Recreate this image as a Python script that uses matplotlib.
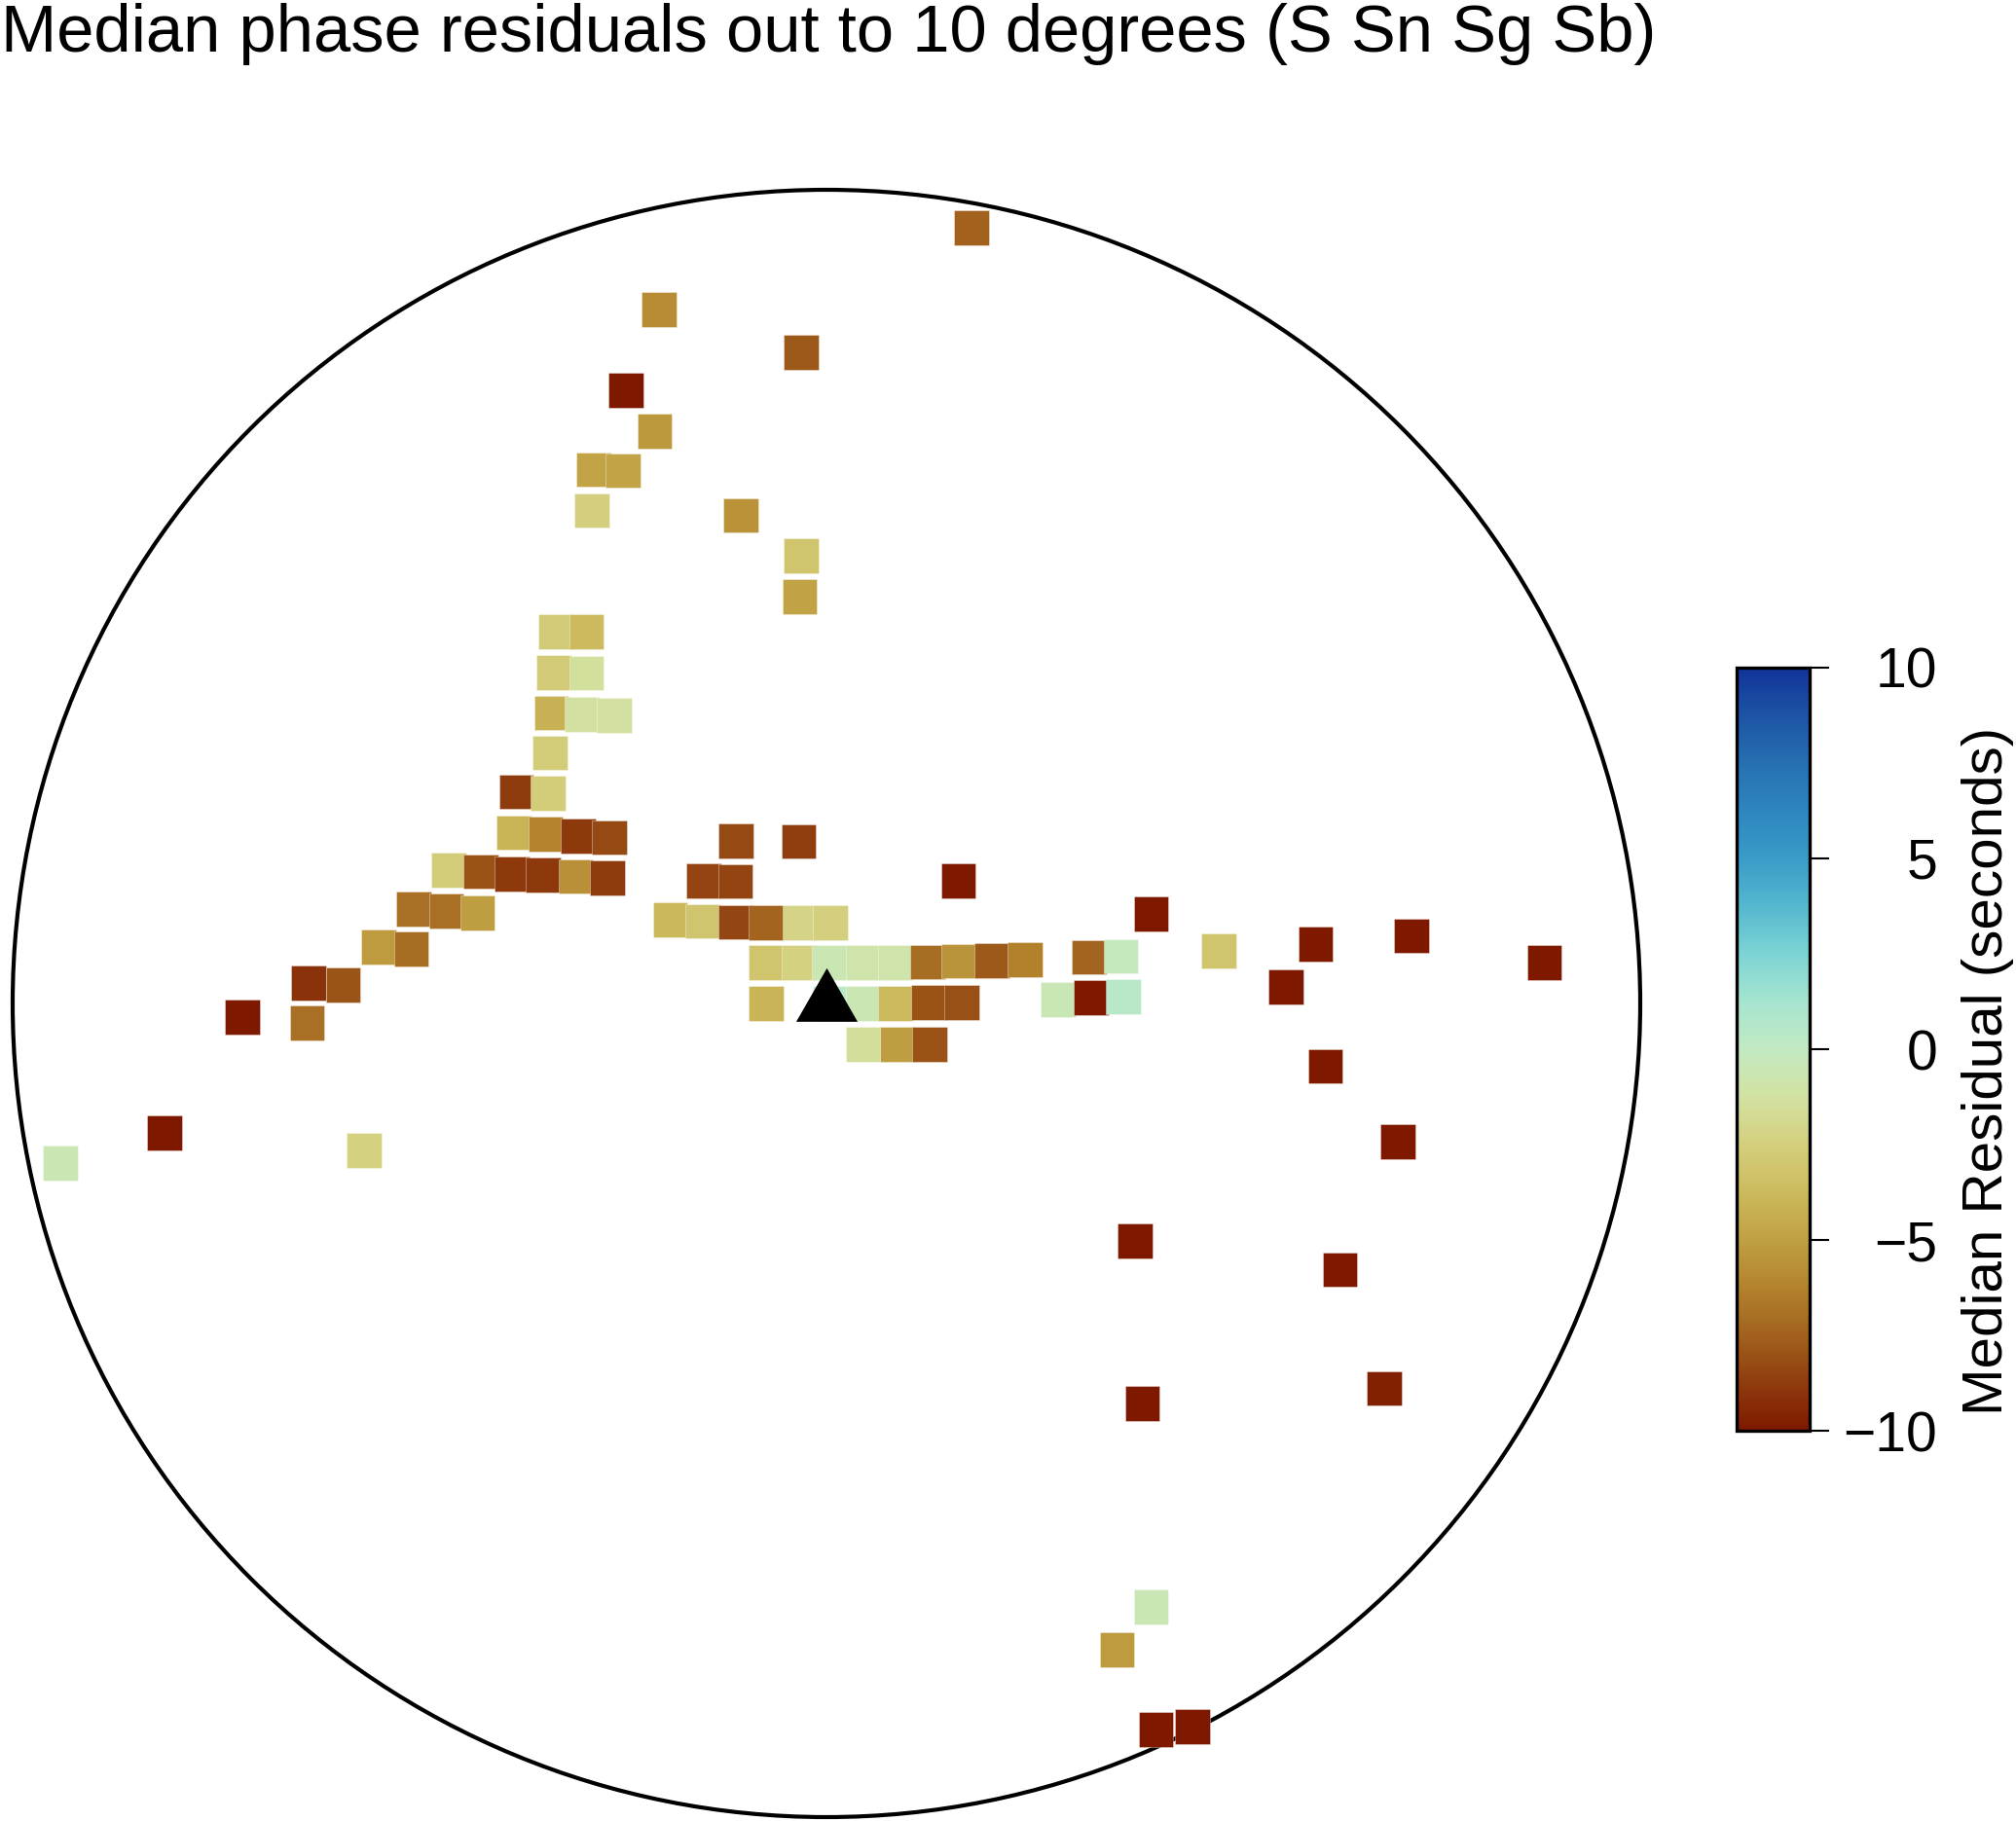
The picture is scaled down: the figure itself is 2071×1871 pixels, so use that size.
import matplotlib
matplotlib.use('Agg')
from matplotlib import pyplot as plt
from matplotlib.colors import LinearSegmentedColormap
from matplotlib.patches import Circle

plt.rcParams['font.family'] = ['Liberation Sans', 'DejaVu Sans']

# station offsets from the centre (degrees east / north) and median residual (s)
east = [1.78, -2.06, -0.31, -2.46, -2.11, -2.86, -2.50, -2.88, -1.05, -0.31, -0.33,
        -3.33, -2.95, -3.35, -2.95, -3.38, -3.00, -2.61, -3.40, -3.81, -3.42,
        -3.84, -3.45, -3.05, -2.67, -1.11, -0.34, -4.64, -4.25, -3.86, -3.48,
        -3.08, -2.69, -1.51, -1.12, 1.62, -5.07, -4.67, -4.29, -1.92, -1.52,
        -1.12, -0.74, -0.33, 0.05, -5.50, -5.10, -6.36, -5.94, -0.74, -0.34,
        0.04, 0.45, 0.85, 1.24, 1.62, 2.03, 2.44, -0.74, 0.05, 0.45,
        0.85, 1.26, 1.66, 0.45, 0.87, 1.27, -7.18, -6.38, -8.13, -5.68,
        -9.41, 3.99, 3.23, 3.62, 4.82, 6.01, 7.19, 8.82, 2.85, 3.25,
        3.65, 5.65, 6.13, 7.02, 3.79, 6.31, 6.85, 3.88, 3.99, 3.57, 4.05, 4.50]
north = [9.53, 8.53, 8.00, 7.54, 7.03, 6.56, 6.55, 6.06, 6.00, 5.50, 5.00,
         4.57, 4.57, 4.07, 4.06, 3.57, 3.55, 3.54, 3.08, 2.60, 2.58,
         2.10, 2.08, 2.06, 2.04, 2.00, 1.99, 1.64, 1.62, 1.59, 1.58,
         1.56, 1.54, 1.51, 1.50, 1.51, 1.16, 1.14, 1.11, 1.03, 1.01,
         1.00, 0.99, 0.99, 0.99, 0.69, 0.67, 0.25, 0.23, 0.50, 0.50,
         0.50, 0.50, 0.50, 0.51, 0.52, 0.53, 0.54, 0.00, 0.00, 0.00,
         0.00, 0.01, 0.01, -0.50, -0.50, -0.50, -0.17, -0.24, -1.59, -1.81,
         -1.96, 1.10, 0.57, 0.58, 0.65, 0.73, 0.83, 0.50, 0.05, 0.07,
         0.08, 0.20, -0.77, -1.70, -2.92, -3.27, -4.73, -4.92, -7.42, -7.94, -8.92, -8.89]
residual = [-7.5, -5.8, -7.8, -10, -5.3, -4.8, -4.8, -2.5, -5.6, -3.2, -4.9,
            -2.8, -3.7, -2.8, -1.4, -4.2, -1.3, -1.3, -2.7, -8.8, -2.7,
            -4.1, -6.2, -8.9, -8.3, -8.3, -8.7, -2.7, -8.0, -8.9, -8.9,
            -5.7, -8.8, -8.5, -8.5, -10, -7.0, -7.0, -5.1, -3.9, -3.1,
            -8.4, -7.4, -2.2, -2.5, -5.2, -7.1, -9.1, -7.9, -3.2, -2.4,
            -0.6, -0.9, -0.9, -7.1, -5.5, -7.8, -6.3, -4.0, 0.3, -0.6,
            -3.7, -8.0, -8.1, -1.5, -5.1, -8.0, -10, -7.0, -10, -2.4,
            -0.6, -10, -7.4, -0.2, -3.2, -10, -10, -10, -0.5, -10,
            0.4, -10, -10, -10, -10, -10, -9.7, -10, -0.5, -5.2, -10, -10]

station_east = [0.0]
station_north = [0.0]
max_dist = 10.0

cmap_colors = ['#7E1900', '#8F3D0E', '#A2621E', '#B3832D', '#C0A043', '#CCBB5D',
               '#D4CF7E', '#D2E2A2', '#C2EAC2', '#A6E5D0', '#7DD4D4', '#55B8CF',
               '#3A9CC8', '#2E86BE', '#2670B2', '#1D55A5', '#11349A']
roma = LinearSegmentedColormap.from_list('roma_like', cmap_colors)

fig = plt.figure(figsize=(20.71, 18.71), dpi=100)

ax = fig.add_axes([13 / 2071, 4 / 1871, 1672 / 2071, 1672 / 1871])
ax.set_xlim(-max_dist, max_dist)
ax.set_ylim(-max_dist, max_dist)
ax.axis('off')

ax.add_patch(Circle((0, 0), max_dist, fill=False, lw=3, color='black', clip_on=False))

sc = ax.scatter(east, north, c=residual, cmap=roma, vmin=-10, vmax=10,
                marker='s', s=25.7 ** 2, edgecolors=(1, 1, 1, 0.5), linewidths=0.5,
                zorder=2)

# station triangle, centred on its centroid
tri = [(0, 2), (-1.72, -1), (1.72, -1), (0, 2)]
ax.plot(station_east, station_north, marker=tri, markersize=52.8, color='black',
        markeredgewidth=0, linestyle='none', zorder=3)

cax = fig.add_axes([1784 / 2071, 401 / 1871, 75 / 2071, 784 / 1871])
cb = fig.colorbar(sc, cax=cax, ticks=[-10, -5, 0, 5, 10])
cb.outline.set_linewidth(2.4)
cax.tick_params(length=14.5, width=1.5, labelsize=41, pad=80)
for lab in cax.get_yticklabels():
    lab.set_horizontalalignment('right')

fig.text(2042 / 2071, 1 - 1100 / 1871, 'Median Residual (seconds)', rotation=90,
         ha='center', va='center', fontsize=42)

fig.text(1 / 2071, 1 - 53 / 1871, 'Median phase residuals out to 10 degrees (S Sn Sg Sb)',
         ha='left', va='baseline', fontsize=49.5)

fig.savefig('out.png', dpi=100)
